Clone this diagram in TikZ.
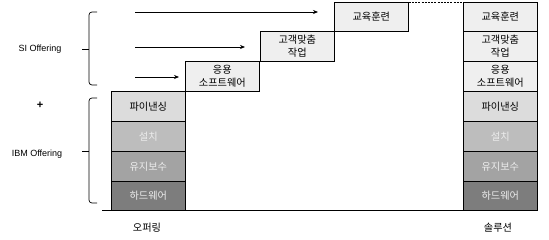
\documentclass[tikz,border=0pt]{standalone}
\usepackage{fontspec}
\setmainfont{Liberation Sans}
\newfontfamily\kr{Noto Sans CJK KR}
\usetikzlibrary{arrows.meta}
\definecolor{cTop}{HTML}{EFEFEF}
\definecolor{cFin}{HTML}{DCDCDC}
\definecolor{cSet}{HTML}{BDBDBD}
\definecolor{cMnt}{HTML}{A3A3A3}
\definecolor{cHw}{HTML}{7D7D7D}
\definecolor{cLt}{HTML}{EDEDED}
\tikzset{
  box/.style={draw, line width=0.7pt, minimum width=74pt, minimum height=30pt, inner sep=0pt,
    anchor=north west, align=center, font=\kr\fontsize{10.2}{13}\selectfont},
  topbox/.style={box, fill=cTop},
  finbox/.style={box, fill=cFin},
  setbox/.style={box, fill=cSet, text=cLt},
  mntbox/.style={box, fill=cMnt, text=cLt},
  hwbox/.style={box, fill=cHw, text=cLt},
  thick sep/.style={line width=1.6pt},
  arr/.style={-{Stealth[length=5pt,width=4pt]}, line width=0.7pt},
  brace/.style={line width=0.7pt},
  lbl/.style={font=\fontsize{9}{10}\selectfont},
  klbl/.style={font=\kr\fontsize{10.2}{12}\selectfont}
}
\begin{document}
\begin{tikzpicture}[x=1pt,y=-1pt]
\useasboundingbox (0,0) rectangle (549,240);
% left stack
\node[finbox] (lfin) at (111,91) {파이낸싱};
\node[setbox] (lset) at (111,121) {설치};
\node[mntbox] (lmnt) at (111,151) {유지보수};
\node[hwbox, minimum height=29pt] (lhw) at (111,181) {하드웨어};
\draw[thick sep] (lset.south west) -- (lset.south east);
% steps
\node[topbox] (sapp) at (185,61) {응용\\소프트웨어};
\node[topbox] (scus) at (260,31) {고객맞춤\\작업};
\node[topbox, minimum height=29pt] (sedu) at (334,2) {교육훈련};
% right stack
\node[topbox, minimum height=29pt] (redu) at (463,2) {교육훈련};
\node[topbox] (rcus) at (463,31) {고객맞춤\\작업};
\node[topbox] (rapp) at (463,61) {응용\\소프트웨어};
\node[finbox] (rfin) at (463,91) {파이낸싱};
\node[setbox] (rset) at (463,121) {설치};
\node[mntbox] (rmnt) at (463,151) {유지보수};
\node[hwbox, minimum height=29pt] (rhw) at (463,181) {하드웨어};
\draw[thick sep] (redu.south west) -- (redu.south east);
\draw[thick sep] (rcus.south west) -- (rcus.south east);
\draw[thick sep] (rset.south west) -- (rset.south east);
% dashed top line
\draw[dash pattern=on 2pt off 1.2pt, line width=0.8pt] (sedu.north east) -- (redu.north west);
% baseline
\coordinate (bl) at (102,210);
\coordinate (br) at (537,210);
\draw[line width=0.8pt] (bl) -- (br);
% arrows
\coordinate (a1s) at (135,12);
\coordinate (a1e) at (318,12);
\coordinate (a2s) at (135,47);
\coordinate (a2e) at (245,47);
\coordinate (a3s) at (135,77);
\coordinate (a3e) at (179,77);
\draw[arr] (a1s) -- (a1e);
\draw[arr] (a2s) -- (a2e);
\draw[arr] (a3s) -- (a3e);
% braces
\draw[brace] (97,12) -- (92,12) to[out=180,in=90] (89,15) -- (89,82) to[out=-90,in=180] (92,85) -- (97,85);
\draw[brace] (82,49) -- (89,49);
\draw[brace] (97,98) -- (92,98) to[out=180,in=90] (89,101) -- (89,200) to[out=-90,in=180] (92,203) -- (97,203);
\draw[brace] (82,151) -- (89,151);
% labels
\node[lbl] (si) at (40,49) {SI Offering};
\node[font=\bfseries\fontsize{11}{12}\selectfont] (plus) at (40,105) {+};
\node[lbl] (ibm) at (37,154) {IBM Offering};
\node[klbl] (off) at (147,228) {오퍼링};
\node[klbl] (sol) at (498,228) {솔루션};
\end{tikzpicture}
\end{document}
